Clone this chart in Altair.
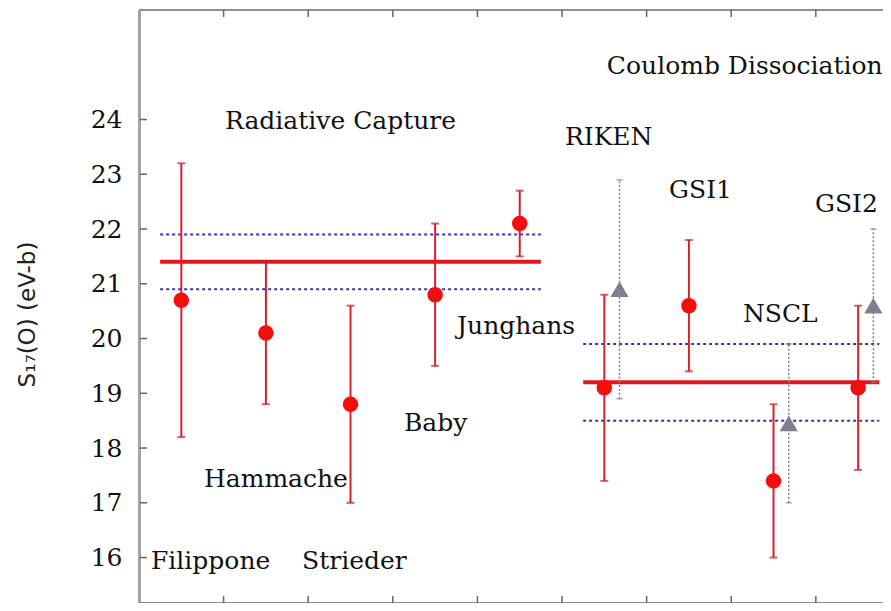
import altair as alt
import pandas as pd

# ---------------- data ----------------
# Radiative capture measurements (red circles)
rc_names = ["Filippone", "Hammache", "Strieder", "Baby", "Junghans"]
rc_x = [0.5, 1.5, 2.5, 3.5, 4.5]
rc_y = [20.7, 20.1, 18.8, 20.8, 22.1]
rc_err = [2.5, 1.3, 1.8, 1.3, 0.6]

# Coulomb dissociation measurements (red circles)
cd_names = ["RIKEN", "GSI1", "NSCL", "GSI2"]
cd_x = [5.5, 6.5, 7.5, 8.5]
cd_y = [19.1, 20.6, 17.4, 19.1]
cd_err = [1.7, 1.2, 1.4, 1.5]

# Re-analysed values (grey triangles)
tri_x = [5.68, 7.68, 8.68]
tri_y = [20.9, 18.45, 20.6]
tri_lo = [18.9, 17.0, 19.2]
tri_hi = [22.9, 19.9, 22.0]

# Weighted means and their bands
mean_x1 = [0.25, 5.25]
mean_x2 = [4.75, 8.75]
mean_y = [21.4, 19.2]
band_lo = [20.9, 18.5]
band_hi = [21.9, 19.9]

# Text labels
label_text = ["Radiative Capture", "Coulomb Dissociation", "RIKEN", "GSI1", "GSI2",
              "NSCL", "Junghans", "Baby", "Hammache", "Filippone", "Strieder"]
label_x = [1.017, 5.53, 5.035, 6.265, 7.99, 7.139, 3.759, 3.132, 0.768, 0.142, 1.927]
label_y = [23.83, 24.83, 23.53, 22.57, 22.31, 20.30, 20.08, 18.31, 17.29, 15.79, 15.79]

y_ticks = list(range(16, 25))
x_ticks = list(range(1, 9))

# ---------------- layout ----------------
W, H = 744, 593
XMAX = 8.794
YMIN, YMAX = 15.17, 26.0

xs = alt.Scale(domain=[0, XMAX], nice=False, zero=False)
ys = alt.Scale(domain=[YMIN, YMAX], nice=False, zero=False)

yaxis = alt.Axis(values=y_ticks, ticks=False, domain=True, domainColor="#a3a3a3",
                 domainWidth=3, grid=False, labelFont="DejaVu Serif", labelFontSize=25,
                 labelColor="#111111", labelPadding=17,
                 title="S₁₇(O) (eV-b)", titleFont="DejaVu Sans", titleFontSize=23,
                 titleFontWeight="normal", titleColor="#222222",
                 titleX=-112, titleY=304, titleAngle=270, titleAlign="center",
                 titleBaseline="middle")


def X(f):
    return alt.X(f + ":Q", scale=xs, axis=None)


def Y(f):
    return alt.Y(f + ":Q", scale=ys, axis=yaxis)


red = pd.DataFrame({
    "x": rc_x + cd_x,
    "y": rc_y + cd_y,
    "lo": [v - e for v, e in zip(rc_y + cd_y, rc_err + cd_err)],
    "hi": [v + e for v, e in zip(rc_y + cd_y, rc_err + cd_err)],
})
tri = pd.DataFrame({"x": tri_x, "y": tri_y, "lo": tri_lo, "hi": tri_hi})
means = pd.DataFrame({"x1": mean_x1, "x2": mean_x2, "m": mean_y,
                      "lo": band_lo, "hi": band_hi})
labels = pd.DataFrame({"x": label_x, "y": label_y, "t": label_text})
yt = pd.DataFrame({"v": y_ticks})
xt = pd.DataFrame({"v": x_ticks})
one = pd.DataFrame({"a": [0]})

band_color = "#3535b5"
bands_lo = alt.Chart(means).mark_rule(color=band_color, strokeWidth=2, strokeDash=[3, 3]).encode(
    x=X("x1"), x2="x2", y=Y("lo"))
bands_hi = alt.Chart(means).mark_rule(color=band_color, strokeWidth=2, strokeDash=[3, 3]).encode(
    x=X("x1"), x2="x2", y=Y("hi"))
mean_lines = alt.Chart(means).mark_rule(color="#e3161c", strokeWidth=4).encode(
    x=X("x1"), x2="x2", y=Y("m"))

red_bars = alt.Chart(red).mark_rule(color="#d8202c", strokeWidth=2).encode(
    x=X("x"), y=Y("lo"), y2="hi")
red_cap_lo = alt.Chart(red).mark_tick(color="#c41f2b", orient="horizontal", size=8, thickness=2).encode(
    x=X("x"), y=Y("lo"))
red_cap_hi = alt.Chart(red).mark_tick(color="#c41f2b", orient="horizontal", size=8, thickness=2).encode(
    x=X("x"), y=Y("hi"))
red_pts = alt.Chart(red).mark_point(shape="circle", filled=True, size=240, color="#f50d0d", opacity=1).encode(
    x=X("x"), y=Y("y"))

gray = "#7d818c"
tri_bars = alt.Chart(tri).mark_rule(color=gray, strokeWidth=1.5, strokeDash=[2, 2]).encode(
    x=X("x"), y=Y("lo"), y2="hi")
tri_cap_lo = alt.Chart(tri).mark_tick(color=gray, orient="horizontal", size=6, thickness=1.5).encode(
    x=X("x"), y=Y("lo"))
tri_cap_hi = alt.Chart(tri).mark_tick(color=gray, orient="horizontal", size=6, thickness=1.5).encode(
    x=X("x"), y=Y("hi"))
tri_pts = alt.Chart(tri).mark_point(shape="triangle-up", filled=True, size=330, color=gray, opacity=1).encode(
    x=X("x"), y=Y("y"))

texts = alt.Chart(labels).mark_text(align="left", baseline="alphabetic", font="DejaVu Serif",
                                    fontSize=25, color="#111111").encode(
    x=X("x"), y=Y("y"), text="t:N")

frame_col = "#8f8f8f"
top_line = alt.Chart(one).mark_rule(color=frame_col, strokeWidth=2).encode(
    x=alt.value(0), x2=alt.value(W), y=alt.value(0))
bottom_line = alt.Chart(one).mark_rule(color=frame_col, strokeWidth=2).encode(
    x=alt.value(0), x2=alt.value(W), y=alt.value(H))
y_tick_marks = alt.Chart(yt).mark_rule(color="#666666", strokeWidth=1.5).encode(
    y=Y("v"), x=alt.value(1), x2=alt.value(8))
top_ticks = alt.Chart(xt).mark_rule(color="#666666", strokeWidth=1.5).encode(
    x=X("v"), y=alt.value(0), y2=alt.value(7))
bottom_ticks = alt.Chart(xt).mark_rule(color="#666666", strokeWidth=1.5).encode(
    x=X("v"), y=alt.value(H), y2=alt.value(H - 7))

chart = alt.layer(
    bands_lo, bands_hi, mean_lines,
    tri_bars, tri_cap_lo, tri_cap_hi,
    red_bars, red_cap_lo, red_cap_hi, red_pts, tri_pts,
    texts, top_line, bottom_line, y_tick_marks, top_ticks, bottom_ticks,
).properties(
    width=W, height=H,
    autosize=alt.AutoSizeParams(type="none"),
    padding={"left": 131, "top": 2, "right": 0, "bottom": 0},
).configure_view(stroke=None).configure(background="white")

chart.save("out.html", embed_options={"renderer": "svg", "actions": False})
